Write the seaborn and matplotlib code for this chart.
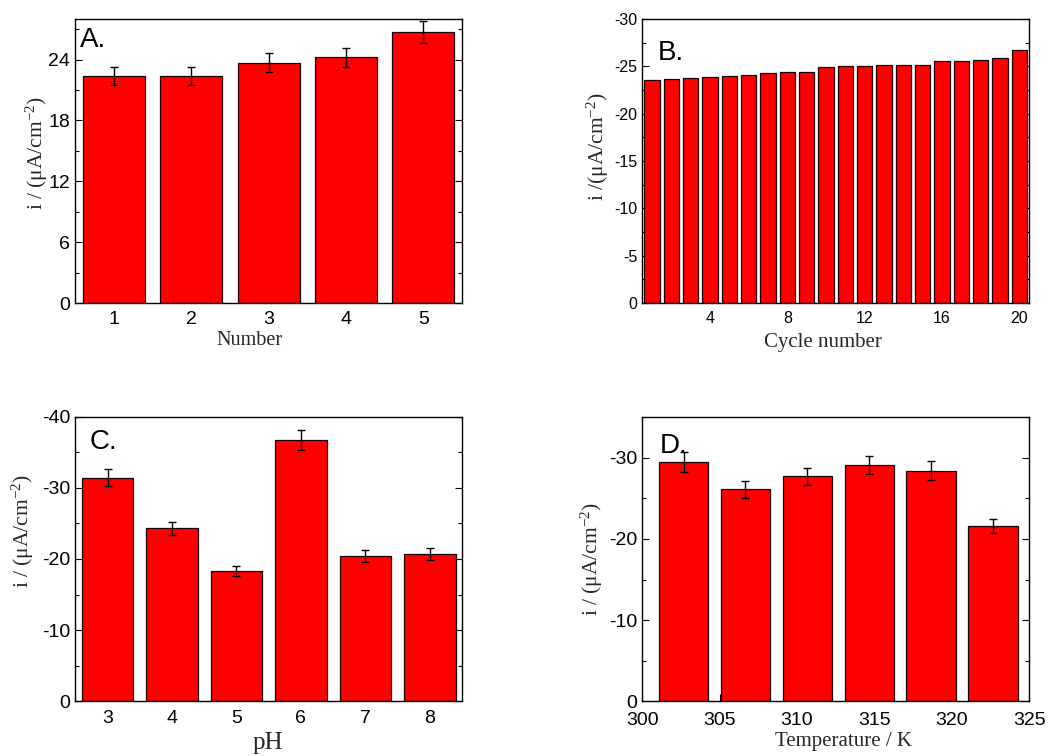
import matplotlib
matplotlib.use("Agg")
import matplotlib.pyplot as plt
from matplotlib.ticker import MultipleLocator
import seaborn as sns
import pandas as pd

sns.set_style("white")
plt.rcParams['font.family'] = ['Liberation Sans', 'DejaVu Sans']
plt.rcParams['axes.unicode_minus'] = False
plt.rcParams['mathtext.fontset'] = 'custom'
plt.rcParams['mathtext.rm'] = 'Liberation Serif'
plt.rcParams['mathtext.it'] = 'Liberation Serif:italic'

# ---- data ----
a_number = [1, 2, 3, 4, 5]
a_current = [22.35, 22.4, 23.7, 24.2, 26.7]
a_err = [0.9, 0.9, 0.95, 0.9, 1.1]

b_cycle = list(range(1, 21))
b_current = [-23.56, -23.63, -23.73, -23.84, -23.94, -24.08, -24.26, -24.37, -24.40, -24.93,
             -25.00, -25.00, -25.10, -25.10, -25.18, -25.53, -25.60, -25.67, -25.92, -26.76]

c_ph = [3, 4, 5, 6, 7, 8]
c_current = [-31.4, -24.3, -18.3, -36.7, -20.4, -20.7]
c_err = [1.2, 0.95, 0.75, 1.45, 0.85, 0.8]

d_temp = [302.67, 306.67, 310.67, 314.67, 318.67, 322.67]
d_current = [-29.5, -26.1, -27.7, -29.1, -28.4, -21.6]
d_err = [1.2, 1.07, 1.07, 1.15, 1.15, 0.86]

ylab = "i / (μA/cm$^{-2}$)"
ylab_b = "i /(μA/cm$^{-2}$)"

fig = plt.figure(figsize=(10.49, 7.56), dpi=100)
axA = fig.add_axes([0.0715, 0.599, 0.369, 0.376])
axB = fig.add_axes([0.6123, 0.599, 0.3687, 0.376])
axC = fig.add_axes([0.0718, 0.0724, 0.3687, 0.3765])
axD = fig.add_axes([0.6123, 0.0724, 0.3687, 0.3757])

bar_kw = dict(color="#ff0000", saturation=1, edgecolor="#1a0000", linewidth=0.9,
              native_scale=True, errorbar=None)
serif = ['Liberation Serif', 'DejaVu Serif']


def style(ax, tick_size):
    for s in ax.spines.values():
        s.set_linewidth(1.0)
        s.set_color('black')
        s.set_visible(True)
    ax.tick_params(axis='both', which='both', direction='in', labelsize=tick_size,
                   colors='black')
    ax.tick_params(axis='y', which='both', left=True, right=True)
    ax.tick_params(axis='x', which='both', bottom=True, top=False)
    ax.tick_params(which='major', length=5, width=0.8)
    ax.tick_params(which='minor', length=3, width=0.8)
    ax.tick_params(axis='x', which='major', pad=6)


# Panel A
dfA = pd.DataFrame({"x": a_number, "y": a_current})
sns.barplot(data=dfA, x="x", y="y", ax=axA, **bar_kw)
axA.errorbar(a_number, a_current, yerr=a_err, fmt='none', ecolor='black',
             elinewidth=1, capsize=3, capthick=1)
axA.set_xlim(0.5, 5.5)
axA.set_ylim(0, 28)
axA.set_xticks(a_number)
axA.yaxis.set_major_locator(MultipleLocator(6))
axA.yaxis.set_minor_locator(MultipleLocator(3))
style(axA, 14)

# Panel B
dfB = pd.DataFrame({"x": b_cycle, "y": b_current})
sns.barplot(data=dfB, x="x", y="y", ax=axB, **bar_kw)
axB.set_xlim(0.5, 20.5)
axB.set_ylim(0, -30)
axB.set_xticks([4, 8, 12, 16, 20])
axB.yaxis.set_major_locator(MultipleLocator(5))
axB.yaxis.set_minor_locator(MultipleLocator(2.5))
style(axB, 11.5)

# Panel C
dfC = pd.DataFrame({"x": c_ph, "y": c_current})
sns.barplot(data=dfC, x="x", y="y", ax=axC, **bar_kw)
axC.errorbar(c_ph, c_current, yerr=c_err, fmt='none', ecolor='black',
             elinewidth=1, capsize=3, capthick=1)
axC.set_xlim(2.5, 8.5)
axC.set_ylim(0, -40)
axC.set_xticks(c_ph)
axC.yaxis.set_major_locator(MultipleLocator(10))
axC.yaxis.set_minor_locator(MultipleLocator(5))
style(axC, 14)

# Panel D
dfD = pd.DataFrame({"x": d_temp, "y": d_current})
sns.barplot(data=dfD, x="x", y="y", ax=axD, **bar_kw)
axD.errorbar(d_temp, d_current, yerr=d_err, fmt='none', ecolor='black',
             elinewidth=1, capsize=3, capthick=1)
axD.set_xlim(300, 325)
axD.set_ylim(0, -35)
axD.set_xticks([300, 305, 310, 315, 320, 325])
axD.yaxis.set_major_locator(MultipleLocator(10))
axD.yaxis.set_minor_locator(MultipleLocator(5))
style(axD, 14)
axD.tick_params(axis='x', which='major', pad=8)

# labels
specs = [
    (axA, "Number", ylab, 14.5, 15.5, (0.45, -0.13), (-0.098, 0.53), "A.", (0.013, 0.926)),
    (axB, "Cycle number", ylab_b, 15, 15.5, (0.468, -0.137), (-0.114, 0.55), "B.", (0.039, 0.88)),
    (axC, "pH", ylab, 18, 15.5, (0.497, -0.148), (-0.135, 0.6), "C.", (0.036, 0.91)),
    (axD, "Temperature / K", ylab, 15, 15.5, (0.52, -0.142), (-0.13, 0.5), "D.", (0.044, 0.90)),
]
for ax, xl, yl, xs, ys, xc, yc, letter, lc in specs:
    ax.set_xlabel(xl, fontsize=xs, family=serif, va='center')
    ax.set_ylabel(yl, fontsize=ys, family=serif, va='center')
    ax.xaxis.set_label_coords(*xc)
    ax.yaxis.set_label_coords(*yc)
    ax.text(lc[0], lc[1], letter, transform=ax.transAxes, fontsize=20,
            ha='left', va='center', color='black')

fig.savefig("out.png", dpi=100)
